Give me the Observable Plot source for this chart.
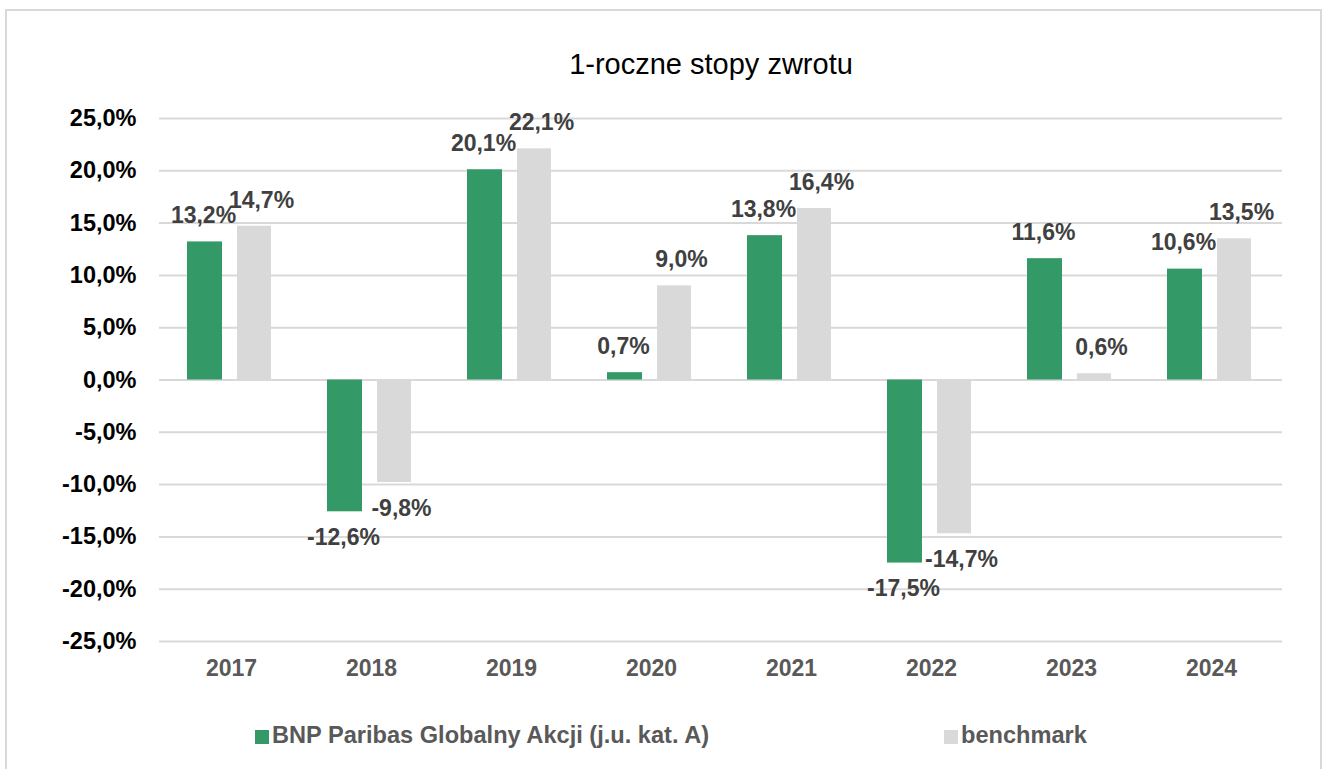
<!DOCTYPE html>
<html>
<head>
<meta charset="utf-8">
<script src="https://cdn.jsdelivr.net/npm/d3@7"></script>
<script src="https://cdn.jsdelivr.net/npm/@observablehq/plot@0.6"></script>
<style>
  html, body { margin: 0; padding: 0; background: #fff; }
  body { width: 1322px; height: 769px; overflow: hidden; position: relative; font-family: "Liberation Sans", Arial, sans-serif; }
  #frame { position: absolute; left: 5px; top: 9px; width: 1317px; height: 800px; box-sizing: border-box; border: 2px solid #d9d9d9; }
  #title { position: absolute; left: 0; top: 48px; width: 1422px; text-align: center; font-size: 29px; color: #000; }
  #chart { position: absolute; left: 0; top: 100px; }
  #legend { position: absolute; top: 720px; left: 0; width: 1322px; height: 30px; font-size: 23.6px; font-weight: bold; color: #595959; }
  .item { position: absolute; top: 0; line-height: 30px; white-space: nowrap; }
  .sw { display: inline-block; width: 14px; height: 14px; margin-right: 3px; vertical-align: -1px; }
</style>
</head>
<body>
<div id="frame"></div>
<div id="title">1-roczne stopy zwrotu</div>
<div id="chart"></div>
<div id="legend"></div>
<script>
const years = ["2017", "2018", "2019", "2020", "2021", "2022", "2023", "2024"];
const seriesNames = ["BNP Paribas Globalny Akcji (j.u. kat. A)", "benchmark"];
const fundValues = [13.2, -12.6, 20.1, 0.7, 13.8, -17.5, 11.6, 10.6];
const benchmarkValues = [14.7, -9.8, 22.1, 9.0, 16.4, -14.7, 0.6, 13.5];
const yTicks = [-25, -20, -15, -10, -5, 0, 5, 10, 15, 20, 25];
const colors = ["#339966", "#d9d9d9"];

const fmt = v => v.toFixed(1).replace(".", ",") + "%";
const fund = years.map((y, i) => ({year: y, value: fundValues[i]}));
const bench = years.map((y, i) => ({year: y, value: benchmarkValues[i]}));

const font = "Liberation Sans, Arial, sans-serif";

const plot = Plot.plot({
  width: 1322,
  height: 591,
  marginTop: 18,
  marginBottom: 50,
  marginLeft: 159,
  marginRight: 40,
  style: {fontFamily: font, background: "transparent", overflow: "visible"},
  x: {type: "band", domain: years, paddingInner: 0.4, paddingOuter: 0.2, label: null},
  y: {domain: [-25, 25], label: null},
  marks: [
    Plot.ruleY(yTicks, {stroke: "#d9d9d9", strokeWidth: 2}),
    Plot.barY(fund, {x: "year", y: "value", fill: colors[0], insetRight: 49, dx: -2}),
    Plot.barY(bench, {x: "year", y: "value", fill: colors[1], insetLeft: 50, dx: -2}),
    Plot.text(fund.filter(d => d.value >= 0), {x: "year", y: "value", text: d => fmt(d.value), dx: -28, dy: -26, fill: "#404040", fontSize: 23, fontWeight: "bold"}),
    Plot.text(fund.filter(d => d.value < 0), {x: "year", y: "value", text: d => fmt(d.value), dx: -28, dy: 26, fill: "#404040", fontSize: 23, fontWeight: "bold"}),
    Plot.text(bench.filter(d => d.value >= 0), {x: "year", y: "value", text: d => fmt(d.value), dx: 30, dy: -26, fill: "#404040", fontSize: 23, fontWeight: "bold"}),
    Plot.text(bench.filter(d => d.value < 0), {x: "year", y: "value", text: d => fmt(d.value), dx: 30, dy: 26, fill: "#404040", fontSize: 23, fontWeight: "bold"}),
    Plot.axisY({ticks: yTicks, tickSize: 0, tickPadding: 23, tickFormat: fmt, fontSize: 23.5, fontWeight: "bold", fill: "#000", label: null}),
    Plot.axisX({tickSize: 0, tickPadding: 18, fontSize: 23, fontWeight: "bold", fill: "#595959", label: null})
  ]
});
document.getElementById("chart").appendChild(plot);

const legend = document.getElementById("legend");
const legendX = [255, 944];
seriesNames.forEach((name, i) => {
  const item = document.createElement("div");
  item.className = "item";
  item.style.left = legendX[i] + "px";
  const sw = document.createElement("span");
  sw.className = "sw";
  sw.style.background = colors[i];
  item.appendChild(sw);
  item.appendChild(document.createTextNode(name));
  legend.appendChild(item);
});
</script>
</body>
</html>
